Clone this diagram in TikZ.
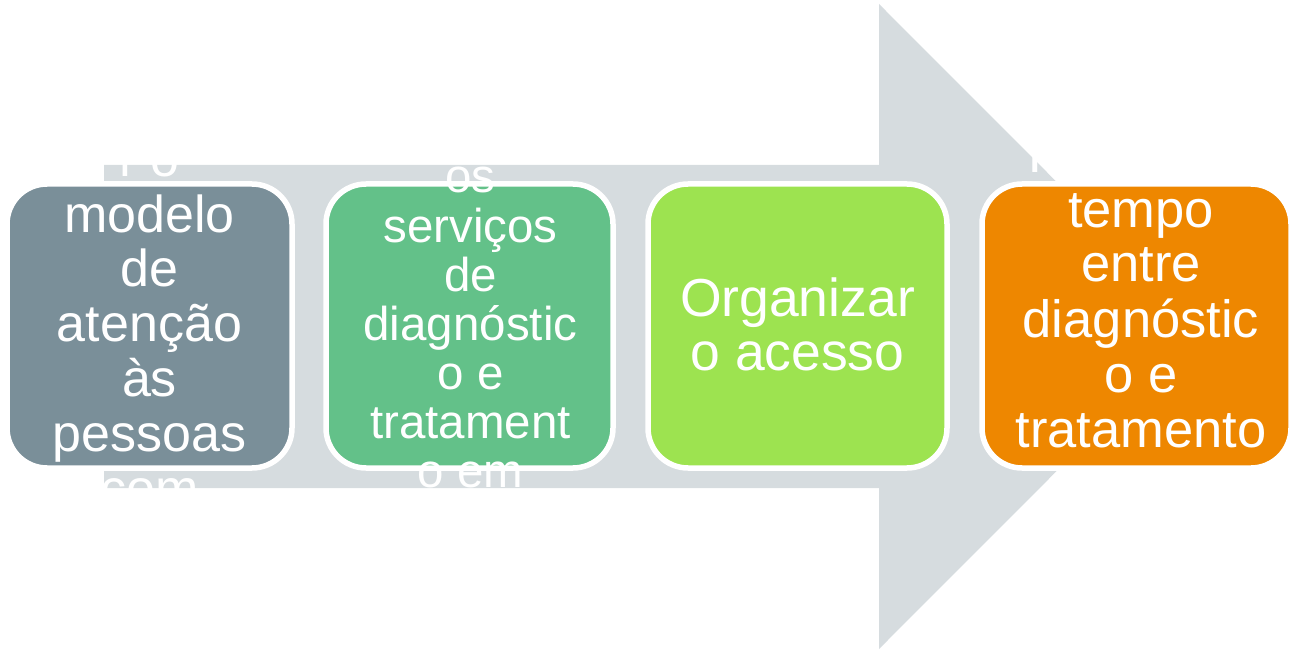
\documentclass[tikz,border=0pt]{standalone}
\usepackage{fontspec}
\setmainfont{Liberation Sans}
\definecolor{arrowgray}{RGB}{214,220,223}
\definecolor{boxslate}{RGB}{122,143,153}
\definecolor{boxgreen}{RGB}{99,193,137}
\definecolor{boxlime}{RGB}{157,227,80}
\definecolor{boxorange}{RGB}{238,135,0}
\begin{document}
\begin{tikzpicture}[x=1pt,y=-1pt,
  stepbox/.style={draw=white, line width=5.5pt, rounded corners=40pt,
    minimum height=284pt, inner sep=0pt},
  lbl/.style={text=white, inner sep=0pt, anchor=base},
  bigfont/.style={font=\fontsize{52}{55}\selectfont},
  midfont/.style={font=\fontsize{47.5}{49}\selectfont},
  threefont/.style={font=\fontsize{53.5}{54}\selectfont},
  fourfont/.style={font=\fontsize{52.5}{55}\selectfont}]
\useasboundingbox (0,0) rectangle (1291,650);
% big background arrow
\fill[arrowgray] (104,165) -- (879,165) -- (879,4) -- (1201,326.5)
  -- (879,649) -- (879,488) -- (104,488) -- cycle;
% boxes
\node[stepbox, fill=boxslate, minimum width=285pt] (b1) at (149.5,326) {};
\node[stepbox, fill=boxgreen, minimum width=287pt] (b2) at (469.5,326) {};
\node[stepbox, fill=boxlime, minimum width=299pt] (b3) at (797.5,326) {};
\node[stepbox, fill=boxorange, minimum width=309pt] (b4) at (1136.5,326) {};
% texts
\node[lbl, bigfont] (t1) at (149.5,177)
  {\begin{tabular}[t]{@{}c@{}}r o\\modelo\\de\\atenção\\às\\pessoas\\com\end{tabular}};
\node[lbl, midfont] (t2) at (470.5,193)
  {\begin{tabular}[t]{@{}c@{}}os\\serviços\\de\\diagnóstic\\o e\\tratament\\o em\end{tabular}};
\node[lbl, threefont] (t3) at (797.5,316)
  {\begin{tabular}[t]{@{}c@{}}Organizar\\o acesso\end{tabular}};
\node[lbl, fourfont] (t4) at (1141,172)
  {\begin{tabular}[t]{@{}c@{}}Reduzir o\\tempo\\entre\\diagnóstic\\o e\\tratamento\end{tabular}};
\end{tikzpicture}
\end{document}
